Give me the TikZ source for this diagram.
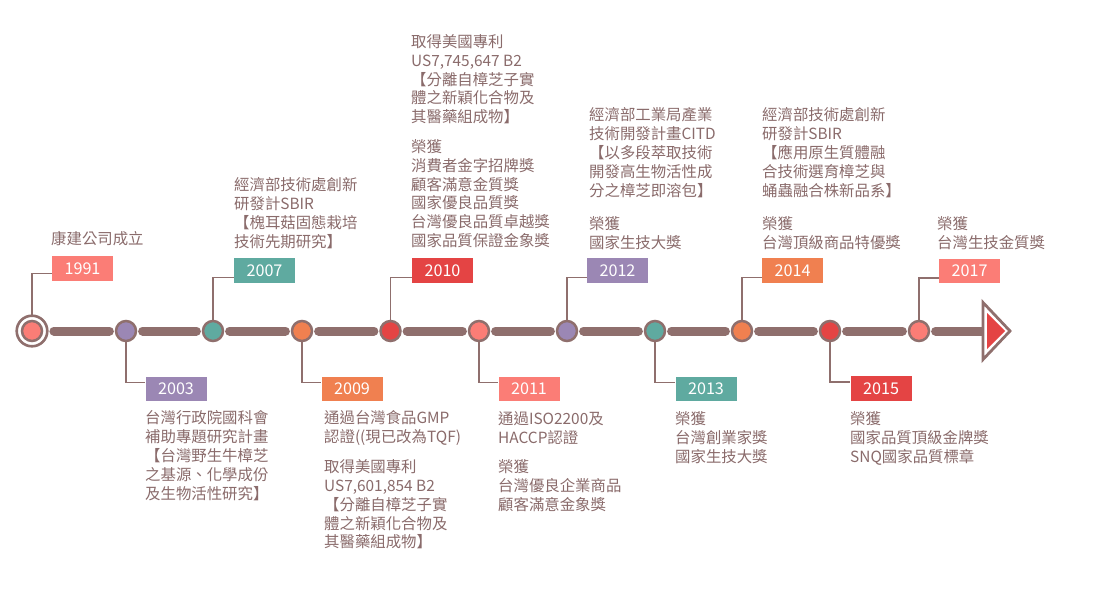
\documentclass[tikz,border=0pt]{standalone}
\usepackage{fontspec}
\setmainfont{Noto Sans CJK TC}
\usetikzlibrary{calc}
\definecolor{brn}{HTML}{8F6F6D}
\definecolor{txt}{HTML}{8A6B6B}
\definecolor{cpink}{HTML}{FB7D76}
\definecolor{cpurple}{HTML}{9B87B4}
\definecolor{cteal}{HTML}{5FAAA0}
\definecolor{corange}{HTML}{F08050}
\definecolor{cred}{HTML}{E44444}
\tikzset{
  dot/.style={circle, draw=brn, line width=2.5pt, fill=#1, minimum size=20pt, inner sep=0pt, outer sep=0pt},
  yearbox/.style={rectangle, fill=#1, text=white, minimum width=61pt, minimum height=24.5pt, inner sep=0pt, font=\fontsize{16.2}{17}\selectfont},
  bar/.style={line width=9pt, draw=brn, line cap=round, shorten <=6.6pt, shorten >=6.6pt},
  conn/.style={draw=brn, line width=1.4pt},
  para/.style={anchor=north west, inner sep=0pt, align=left, text=txt, font=\fontsize{15.4}{18.8}\selectfont},
}
\begin{document}
\begin{tikzpicture}[x=1pt, y=-1pt]
\path[use as bounding box, fill=white] (0,0) rectangle (1100,602);

% timeline dots
\node[circle, draw=brn, line width=2.6pt, minimum size=30.6pt, inner sep=0pt, outer sep=0pt] (r1991) at (32,331) {};
\node[dot=cpink] (c1991) at (32,331) {};
\node[dot=cpurple] (c2003) at (126,331) {};
\node[dot=cteal] (c2007) at (213,331) {};
\node[dot=corange] (c2009) at (302,331) {};
\node[dot=cred] (c2010) at (390.5,331) {};
\node[dot=cpink] (c2011) at (479,331) {};
\node[dot=cpurple] (c2012) at (567,331) {};
\node[dot=cteal] (c2013) at (655,331) {};
\node[dot=corange] (c2014) at (742,331) {};
\node[dot=cred] (c2015) at (830,331) {};
\node[dot=cpink] (c2017) at (919,331) {};
\coordinate (arr) at (983,331);

% bars
\draw[bar] (r1991) -- (c2003);
\draw[bar] (c2003) -- (c2007);
\draw[bar] (c2007) -- (c2009);
\draw[bar] (c2009) -- (c2010);
\draw[bar] (c2010) -- (c2011);
\draw[bar] (c2011) -- (c2012);
\draw[bar] (c2012) -- (c2013);
\draw[bar] (c2013) -- (c2014);
\draw[bar] (c2014) -- (c2015);
\draw[bar] (c2015) -- (c2017);
\draw[bar, shorten >=0pt] (c2017) -- (arr);

% arrow head
\draw[brn, line width=2.8pt, fill=white, line join=miter] (arr) -- ++(0,-28.5) -- ++(27,28.5) -- ++(-27,28.5) -- cycle;
\fill[cred] ($(arr)+(4,-18)$) -- ($(arr)+(22,0)$) -- ($(arr)+(4,18)$) -- cycle;

% year boxes
\node[yearbox=cpink] (y1991) at (82.5,268.5) {1991};
\node[yearbox=cteal] (y2007) at (264.5,270.5) {2007};
\node[yearbox=cred] (y2010) at (442.5,270.5) {2010};
\node[yearbox=cpurple] (y2012) at (617.5,270.5) {2012};
\node[yearbox=corange] (y2014) at (792.5,270.5) {2014};
\node[yearbox=cpink] (y2017) at (969.5,271) {2017};
\node[yearbox=cpurple] (y2003) at (176,389) {2003};
\node[yearbox=corange] (y2009) at (352,389) {2009};
\node[yearbox=cpink] (y2011) at (529,389) {2011};
\node[yearbox=cteal] (y2013) at (706,389) {2013};
\node[yearbox=cred] (y2015) at (881,388.5) {2015};

% connectors
\draw[conn] (r1991.north) |- ([yshift=7.5pt]y1991.south west);
\draw[conn] (c2007.north) |- ([yshift=5.5pt]y2007.south west);
\draw[conn] (c2010.north) |- ([yshift=5.5pt]y2010.south west);
\draw[conn] (c2012.north) |- ([yshift=5.5pt]y2012.south west);
\draw[conn] (c2014.north) |- ([yshift=5.5pt]y2014.south west);
\draw[conn] (c2017.north) |- ([yshift=5.5pt]y2017.south west);
\draw[conn] (c2003.south) |- ([yshift=-6pt]y2003.north west);
\draw[conn] (c2009.south) |- ([yshift=-6pt]y2009.north west);
\draw[conn] (c2011.south) |- ([yshift=-6pt]y2011.north west);
\draw[conn] (c2013.south) |- ([yshift=-6pt]y2013.north west);
\draw[conn] (c2015.south) |- ([yshift=-6pt]y2015.north west);

% texts
\node[para] (t1991) at (51,231) {康建公司成立};
\node[para] (t2007) at (234,177.7) {經濟部技術處創新\\研發計SBIR\\【槐耳菇固態栽培\\技術先期研究】};
\node[para] (t2010a) at (411,34.4) {取得美國專利\\US7,745,647 B2\\【分離自樟芝子實\\體之新穎化合物及\\其醫藥組成物】};
\node[para] (t2010b) at (411,139.4) {榮獲\\消費者金字招牌獎\\顧客滿意金質獎\\國家優良品質獎\\台灣優良品質卓越獎\\國家品質保證金象獎};
\node[para] (t2012a) at (589,107.7) {經濟部工業局產業\\技術開發計畫CITD\\【以多段萃取技術\\開發高生物活性成\\分之樟芝即溶包】};
\node[para] (t2012b) at (589,216.7) {榮獲\\國家生技大獎};
\node[para] (t2014a) at (762,107.7) {經濟部技術處創新\\研發計SBIR\\【應用原生質體融\\合技術選育樟芝與\\蛹蟲融合株新品系】};
\node[para] (t2014b) at (762,216.7) {榮獲\\台灣頂級商品特優獎};
\node[para] (t2017) at (937,216.7) {榮獲\\台灣生技金質獎};
\node[para] (t2003) at (145,410.7) {台灣行政院國科會\\補助專題研究計畫\\【台灣野生牛樟芝\\之基源、化學成份\\及生物活性研究】};
\node[para] (t2009a) at (324,410.7) {通過台灣食品GMP\\認證((現已改為TQF)};
\node[para] (t2009b) at (324,459.4) {取得美國專利\\US7,601,854 B2\\【分離自樟芝子實\\體之新穎化合物及\\其醫藥組成物】};
\node[para] (t2011a) at (498,411.4) {通過ISO2200及\\HACCP認證};
\node[para] (t2011b) at (498,459.7) {榮獲\\台灣優良企業商品\\顧客滿意金象獎};
\node[para] (t2013) at (675,411.4) {榮獲\\台灣創業家獎\\國家生技大獎};
\node[para] (t2015) at (850,411.7) {榮獲\\國家品質頂級金牌獎\\SNQ國家品質標章};
\end{tikzpicture}
\end{document}
